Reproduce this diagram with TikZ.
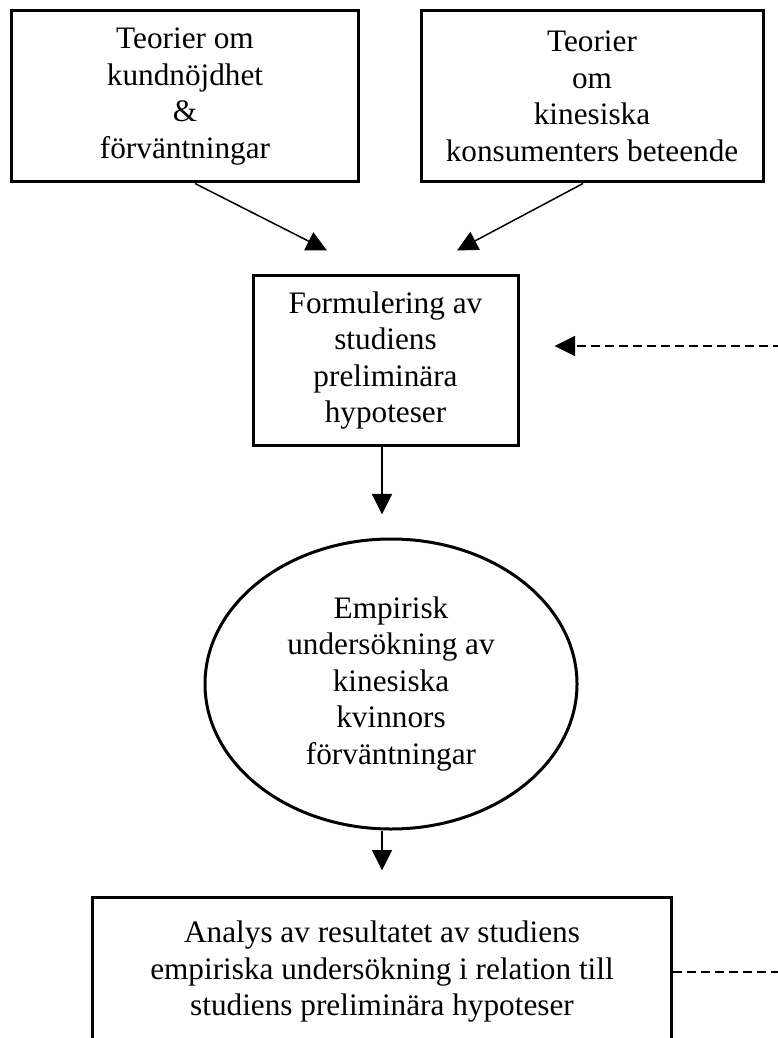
\documentclass[tikz,border=0pt]{standalone}
\usepackage{fontspec}
\setmainfont{Liberation Serif}
\usetikzlibrary{arrows.meta,positioning,calc,shapes.geometric}
\tikzset{
  >={Triangle[length=8.2pt,width=8pt]},
  every node/.style={font=\fontsize{12.5}{14.6}\selectfont,text=black},
  box/.style={draw,line width=1.2pt,align=center,inner sep=0pt},
  oval/.style={box,ellipse},
  arrow/.style={->,line width=0.6pt},
  fback/.style={line width=0.6pt,dash pattern=on 3.6pt off 2pt}
}

\begin{document}
\begin{tikzpicture}[x=0.4pt,y=-0.4pt]
  \useasboundingbox (0,0) rectangle (778,1038);
  \clip (0,0) rectangle (778,1038);

  \node[box,minimum width=138.4pt,minimum height=68.4pt] (kund) at (185,96.5) {Teorier om\\kundnöjdhet\\\&\\förväntningar};
  \node[box,minimum width=136.8pt,minimum height=68.4pt] (kines) at (592,96.5) {Teorier\\om\\kinesiska\\konsumenters beteende};
  \node[box,minimum width=106pt,minimum height=67.6pt] (hyp) at (385.5,360.5) {Formulering av\\studiens\\preliminära\\hypoteser};
  \node[oval,minimum width=148.8pt,minimum height=116pt] (emp) at (391,684) {Empirisk\\undersökning av\\kinesiska\\kvinnors\\förväntningar};
  \node[box,minimum width=231.2pt,minimum height=60pt] (ana) at (382,972) {Analys av resultatet av studiens\\empiriska undersökning i relation till\\studiens preliminära hypoteser};

  \draw[arrow] ($(kund.south)+(10,0)$) -- ($(hyp.north)+(-58.5,-24)$);
  \draw[arrow] ($(kines.south)+(-9,0)$) -- ($(hyp.north)+(71.5,-24)$);
  \draw[arrow,shorten >=9.2pt] (hyp.south -| ana.north) -- (emp.north -| ana.north);
  \draw[arrow,shorten >=10pt] (emp.south -| ana.north) -- (ana.north);

  % feedback, goes on past the right edge
  \coordinate (fbtop) at (782,346);
  \coordinate (fbbot) at (782,972);
  \draw[fback] (ana.east) -- (fbbot);
  \draw[fback,->,shorten >=14pt] (fbtop) -- (hyp.east |- fbtop);
\end{tikzpicture}
\end{document}
